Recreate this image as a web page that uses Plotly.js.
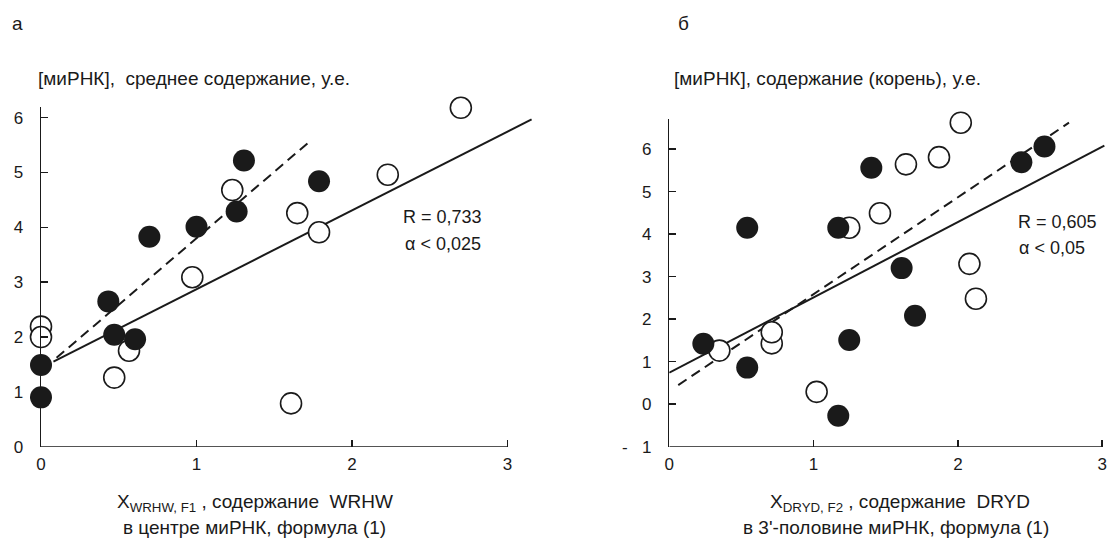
<!DOCTYPE html>
<html><head><meta charset="utf-8">
<script src="https://cdn.plot.ly/plotly-3.0.1.min.js"></script>
<style>html,body{margin:0;padding:0;background:#fff}#chart{width:1112px;height:548px}</style>
</head><body><div id="chart"></div>
<script>
// Panel а
const aFilledX = [0, 0, 0.433, 0.471, 0.605, 0.697, 1.00, 1.258, 1.305, 1.788];
const aFilledY = [1.49, 0.90, 2.65, 2.04, 1.96, 3.83, 4.01, 4.29, 5.22, 4.84];
const aOpenX = [0, 0, 0.471, 0.566, 0.973, 1.230, 1.648, 1.788, 1.608, 2.23, 2.70];
const aOpenY = [2.19, 2.00, 1.26, 1.75, 3.09, 4.68, 4.26, 3.91, 0.79, 4.96, 6.18];
const aSolidX = [0.08, 3.155];
const aSolidY = [1.55, 5.97];
const aDashX = [0.1, 1.73];
const aDashY = [1.62, 5.57];
// Panel б
const bFilledX = [0.236, 0.54, 0.54, 1.171, 1.247, 1.171, 1.40, 1.61, 1.703, 2.44, 2.60];
const bFilledY = [1.42, 0.86, 4.15, 4.15, 1.51, -0.27, 5.56, 3.20, 2.08, 5.69, 6.06];
const bOpenX = [0.347, 0.71, 0.71, 1.021, 1.247, 1.46, 1.64, 1.869, 2.02, 2.08, 2.125];
const bOpenY = [1.26, 1.43, 1.69, 0.29, 4.15, 4.49, 5.64, 5.81, 6.62, 3.30, 2.48];
const bSolidX = [0, 3.015];
const bSolidY = [0.74, 6.08];
const bDashX = [0.062, 2.77];
const bDashY = [0.45, 6.62];

const xTicks = [0, 1, 2, 3];
const aYTicks = [0, 1, 2, 3, 4, 5, 6];
const bYTicks = [-1, 0, 1, 2, 3, 4, 5, 6];
const bYTickText = ['-\u00a0\u00a0\u00a01', '0', '1', '2', '3', '4', '5', '6'];

const FONT = 'Liberation Sans, Arial, sans-serif';
const INK = '#1a1a1a';

function openTrace(x, y, xa, ya) {
  return {x, y, xaxis: xa, yaxis: ya, mode: 'markers', type: 'scatter', cliponaxis: false,
    marker: {size: 21, color: '#ffffff', line: {color: INK, width: 1.6}}, hoverinfo: 'skip'};
}
function filledTrace(x, y, xa, ya) {
  return {x, y, xaxis: xa, yaxis: ya, mode: 'markers', type: 'scatter', cliponaxis: false,
    marker: {size: 22, color: INK, line: {width: 0}}, hoverinfo: 'skip'};
}
function lineTrace(x, y, xa, ya, dash) {
  return {x, y, xaxis: xa, yaxis: ya, mode: 'lines', type: 'scatter',
    line: {color: INK, width: 2, dash: dash}, hoverinfo: 'skip'};
}

const data = [
  lineTrace(aSolidX, aSolidY, 'x', 'y', 'solid'),
  lineTrace(aDashX, aDashY, 'x', 'y', '10px,6px'),
  openTrace(aOpenX, aOpenY, 'x', 'y'),
  filledTrace(aFilledX, aFilledY, 'x', 'y'),
  lineTrace(bSolidX, bSolidY, 'x2', 'y2', 'solid'),
  lineTrace(bDashX, bDashY, 'x2', 'y2', '10px,6px'),
  openTrace(bOpenX, bOpenY, 'x2', 'y2'),
  filledTrace(bFilledX, bFilledY, 'x2', 'y2')
];

const tickFont = {family: FONT, size: 17, color: INK};
function xAxis(domain, range, anchor) {
  return {domain, range, anchor, tickvals: xTicks, ticktext: xTicks.map(String),
    showline: false, zeroline: false, showgrid: false, ticks: 'inside', ticklen: 7,
    tickwidth: 1.5, tickcolor: INK, tickfont: tickFont, ticklabelstandoff: 5, fixedrange: true};
}
function yAxis(domain, range, anchor, vals, text) {
  return {domain, range, anchor, tickvals: vals, ticktext: text,
    showline: true, linecolor: INK, linewidth: 1.5, zeroline: false, showgrid: false,
    ticks: 'inside', ticklen: 7, tickwidth: 1.5, tickcolor: INK, tickfont: tickFont,
    ticklabelstandoff: 13, fixedrange: true};
}

function ann(text, x, y, xanchor, size) {
  return {text, x, y, xref: 'paper', yref: 'paper', xanchor, yanchor: 'middle',
    showarrow: false, font: {family: FONT, size: size || 16, color: INK}, align: 'center'};
}
const py = p => (548 - p) / 548;
const px = p => p / 1112;

const layout = {
  width: 1112, height: 548, margin: {l: 0, r: 0, t: 0, b: 0},
  paper_bgcolor: '#fff', plot_bgcolor: 'rgba(0,0,0,0)', showlegend: false,
  xaxis: xAxis([px(41), px(538.6)], [0, 3.2], 'y'),
  yaxis: yAxis([py(446.7), py(106.7)], [0, 6.2], 'x', aYTicks, aYTicks.map(String)),
  xaxis2: xAxis([px(669.3), px(1109.4)], [0, 3.05], 'y2'),
  yaxis2: yAxis([py(446.7), py(119.3)], [-1, 6.7], 'x2', bYTicks, bYTickText),
  shapes: [
    {type: 'line', xref: 'x', yref: 'y', x0: 0, x1: 3, y0: 0, y1: 0, line: {color: INK, width: 1.5}},
    {type: 'line', xref: 'x2', yref: 'y2', x0: 0, x1: 3, y0: -1, y1: -1, line: {color: INK, width: 1.5}}
  ],
  annotations: [
    ann('а', px(10), py(24), 'left', 19),
    ann('б', px(676), py(24), 'left', 19),
    ann('[миРНК],  среднее содержание, у.е.', px(36), py(78), 'left', 19),
    ann('[миРНК], содержание (корень), у.е.', px(672), py(78), 'left', 19),
    ann('R = 0,733', px(401), py(217), 'left', 18),
    ann('α < 0,025', px(403), py(244), 'left', 18),
    ann('R = 0,605', px(1016), py(222), 'left', 18),
    ann('α < 0,05', px(1017), py(248), 'left', 18),
    ann('X<sub>WRHW, F1</sub> , содержание  WRHW', px(255), py(503), 'center', 19),
    ann('в центре миРНК, формула (1)', px(254), py(527), 'center', 19),
    ann('X<sub>DRYD, F2</sub> , содержание  DRYD', px(900), py(503), 'center', 19),
    ann('в 3\'-половине миРНК, формула (1)', px(896), py(527), 'center', 19)
  ]
};

Plotly.newPlot('chart', data, layout, {staticPlot: true, displayModeBar: false});
</script>
</body></html>
